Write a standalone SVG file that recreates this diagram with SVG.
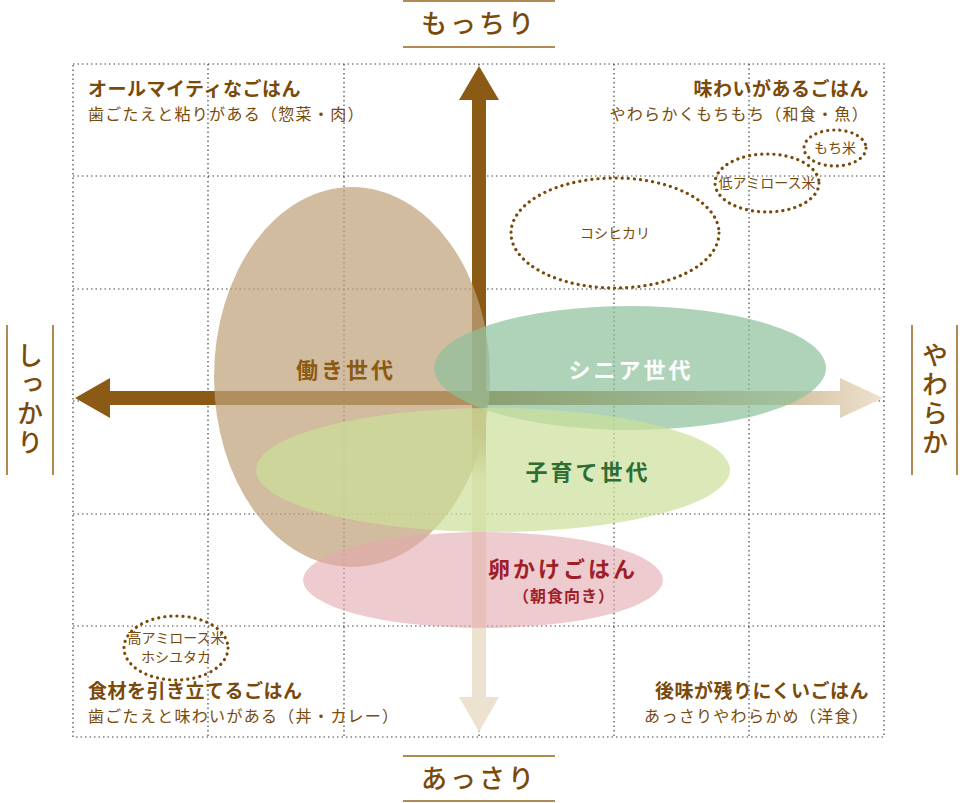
<svg xmlns="http://www.w3.org/2000/svg" width="960" height="803" viewBox="0 0 960 803">
<style>
text{font-family:"Noto Sans CJK JP","Noto Sans CJK SC",sans-serif;fill:#7A4A0A}
.grid{stroke:#444;stroke-width:1.2;stroke-dasharray:1.5 3;fill:none}
.t{font-size:19px;font-weight:bold;letter-spacing:0.5px}
.s{font-size:16px;letter-spacing:1.3px}
.ax{font-size:26px;font-weight:500;letter-spacing:3px}
.axl{stroke:#B08A50;stroke-width:2}
.dot{fill:none;stroke:#7A4A0A;stroke-width:3.2;stroke-dasharray:0.1 6;stroke-linecap:round}
.sm{font-size:14px}
.g{font-size:22px;font-weight:bold;letter-spacing:3px}
</style>
<defs>
<linearGradient id="gh" x1="0" x2="1" y1="0" y2="0"><stop offset="0.5" stop-color="#8B5A14"/><stop offset="0.52" stop-color="#8B5A14"/><stop offset="1" stop-color="#EDE2CF"/></linearGradient>
<linearGradient id="gv" x1="0" x2="0" y1="0" y2="1"><stop offset="0.5" stop-color="#8B5A14"/><stop offset="0.62" stop-color="#EDE2CF"/><stop offset="1" stop-color="#EDE2CF"/></linearGradient>
</defs>
<g id="grid">
<rect class="grid" x="73" y="64" width="811" height="673"/>
<path class="grid" d="M208 64V737M344 64V737M479 64V737M614 64V737M749 64V737M73 176H884M73 289H884M73 401H884M73 514H884M73 626H884"/>
</g>
<g id="axes">
<path d="M75 398 L110 378 L110 391 L840 391 L840 378 L883 398 L840 418 L840 405 L110 405 L110 418 Z" fill="url(#gh)"/>
<path d="M479 66 L499 100 L486 100 L486 697 L499 697 L479 732 L459 697 L472 697 L472 100 L459 100 Z" fill="url(#gv)"/>
</g>
<g id="groups">
<ellipse id="work" cx="352" cy="377" rx="138" ry="190" fill="#BFA27A" opacity="0.72"/>
<ellipse id="senior" cx="630" cy="368" rx="196" ry="62" fill="#8DC09B" opacity="0.7"/>
<ellipse id="child" cx="493" cy="470" rx="237" ry="62" fill="#CCE09A" opacity="0.7"/>
<ellipse id="egg" cx="483" cy="580" rx="180" ry="48" fill="#E3A8AE" opacity="0.6"/>
<text class="g" x="346" y="378" text-anchor="middle" style="fill:#8B5A14">働き世代</text>
<text class="g" x="631" y="378" text-anchor="middle" style="fill:#fff">シニア世代</text>
<text class="g" x="588" y="480" text-anchor="middle" style="fill:#2E6E35">子育て世代</text>
<text class="g" x="563" y="577" text-anchor="middle" style="fill:#A01E2A">卵かけごはん</text>
<text x="564" y="602" font-size="16" font-weight="bold" letter-spacing="1" text-anchor="middle" style="fill:#A01E2A">（朝食向き）</text>
</g>
<g id="rice">
<ellipse class="dot" cx="615" cy="233" rx="104" ry="55"/>
<text class="sm" x="615" y="238" text-anchor="middle">コシヒカリ</text>
<ellipse class="dot" cx="767" cy="183" rx="52" ry="29"/>
<text class="sm" x="767" y="188" text-anchor="middle">低アミロース米</text>
<ellipse class="dot" cx="835" cy="148" rx="31" ry="18"/>
<text class="sm" x="835" y="153" text-anchor="middle">もち米</text>
<ellipse class="dot" cx="176" cy="648" rx="52" ry="32"/>
<text class="sm" x="176" y="643" text-anchor="middle">高アミロース米</text>
<text class="sm" x="176" y="662" text-anchor="middle">ホシユタカ</text>
</g>
<g id="corners">
<text class="t" x="88" y="96">オールマイティなごはん</text>
<text class="s" x="88" y="120">歯ごたえと粘りがある（惣菜・肉）</text>
<text class="t" x="869" y="96" text-anchor="end">味わいがあるごはん</text>
<text class="s" x="869" y="120" text-anchor="end">やわらかくもちもち（和食・魚）</text>
<text class="t" x="88" y="698">食材を引き立てるごはん</text>
<text class="s" x="88" y="722">歯ごたえと味わいがある（丼・カレー）</text>
<text class="t" x="869" y="698" text-anchor="end">後味が残りにくいごはん</text>
<text class="s" x="869" y="722" text-anchor="end">あっさりやわらかめ（洋食）</text>
</g>
<g id="labels">
<line class="axl" x1="403" y1="1" x2="555" y2="1"/><line class="axl" x1="403" y1="47" x2="555" y2="47"/>
<text class="ax" x="479" y="33" text-anchor="middle">もっちり</text>
<line class="axl" x1="403" y1="756" x2="555" y2="756"/><line class="axl" x1="403" y1="801" x2="555" y2="801"/>
<text class="ax" x="479" y="788" text-anchor="middle">あっさり</text>
<line class="axl" x1="7" y1="325" x2="7" y2="475"/><line class="axl" x1="53" y1="325" x2="53" y2="475"/>
<text class="ax" x="30" y="400" text-anchor="middle" style="writing-mode:vertical-rl" dominant-baseline="central">しっかり</text>
<line class="axl" x1="912" y1="325" x2="912" y2="475"/><line class="axl" x1="957" y1="325" x2="957" y2="475"/>
<text class="ax" x="935" y="400" text-anchor="middle" style="writing-mode:vertical-rl" dominant-baseline="central">やわらか</text>
</g>
</svg>
